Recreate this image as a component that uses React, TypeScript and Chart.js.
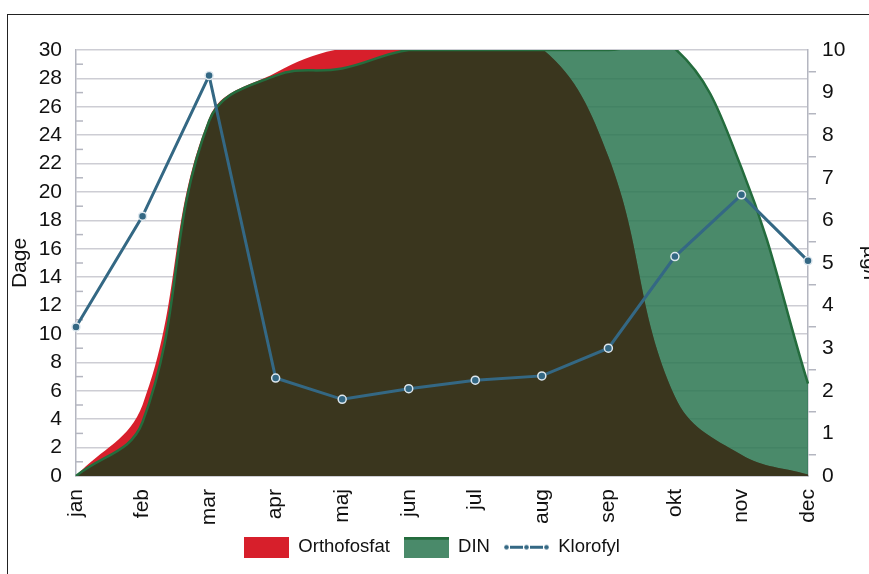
import React, { useEffect, useRef } from 'react';
import { Chart, registerables } from 'chart.js';

Chart.register(...registerables);

// ---- data ----
const months = ['jan', 'feb', 'mar', 'apr', 'maj', 'jun', 'jul', 'aug', 'sep', 'okt', 'nov', 'dec'];
const orthofosfat = [0, 5.0, 25.2, 28.4, 30.1, 30.1, 30.1, 30.1, 22.5, 5.6, 1.5, 0.1];
const din = [0, 3.8, 25.0, 28.2, 28.7, 30.0, 30.0, 30.0, 30.0, 30.1, 21.7, 6.5];
const klorofyl = [3.5, 6.1, 9.4, 2.3, 1.8, 2.05, 2.25, 2.35, 3.0, 5.15, 6.6, 5.05];
const seriesLabels = ['Orthofosfat', 'DIN', 'Klorofyl'];
const leftAxisTitle = 'Dage';
const rightAxisTitle = 'µg/l';
const leftMin = 0, leftMax = 30, leftStep = 2;
const rightMin = 0, rightMax = 10, rightStep = 1;

// ---- styles ----
const FONT = "'Liberation Sans', Arial, Helvetica, sans-serif";
const TEXT = '#111111';
const RED = '#d71f2b';
const GREEN_FILL = 'rgba(42,118,80,0.85)';
const GREEN_LEGEND = '#4a8a6a';
const GREEN_LINE = '#246c3d';
const OLIVE = '#3a361e';
const BLUE = '#346884';
const GRID = '#cdcdd4';
const AXIS = '#b4b6c0';
const AREA_TENSION = 0.4;

function boxImage(fill: string, top?: string) {
  const c = document.createElement('canvas');
  c.width = 45; c.height = 21;
  const g = c.getContext('2d')!;
  g.fillStyle = fill; g.fillRect(0, 0, 45, 21);
  if (top) { g.fillStyle = top; g.fillRect(0, 0, 45, 3); }
  return c;
}
function lineImage() {
  const c = document.createElement('canvas');
  c.width = 45; c.height = 21;
  const g = c.getContext('2d')!;
  g.strokeStyle = BLUE; g.fillStyle = BLUE; g.lineWidth = 3;
  g.beginPath(); g.moveTo(6, 10.5); g.lineTo(19, 10.5); g.moveTo(26, 10.5); g.lineTo(39, 10.5); g.stroke();
  [2.5, 22.5, 42.5].forEach((x) => { g.beginPath(); g.arc(x, 10.5, 2.3, 0, Math.PI * 2); g.fill(); });
  return c;
}

const overlapPlugin = {
  id: 'overlap',
  afterUpdate(chart: any) {
    const lg = chart.legend;
    if (lg) { lg.left -= 15; lg.right -= 15; }
  },
  beforeDatasetsDraw(chart: any) {
    const ys = chart.scales.y; const ctx = chart.ctx;
    ctx.save(); ctx.strokeStyle = AXIS; ctx.lineWidth = 1.5;
    for (let v = leftMin + leftStep / 2; v < leftMax; v += leftStep) {
      const py = ys.getPixelForValue(v);
      ctx.beginPath(); ctx.moveTo(ys.right, py); ctx.lineTo(ys.right + 7, py); ctx.stroke();
    }
    ctx.restore();
  },
  beforeDatasetDraw(chart: any, args: any) {
    if (args.index !== 1) return;
    const red = chart.getDatasetMeta(0).dataset;
    const grn = chart.getDatasetMeta(1).dataset;
    const { ctx, chartArea } = chart;
    const y0 = chart.scales.y.getPixelForValue(0);
    const area = (line: any) => {
      const pts = line.points;
      ctx.beginPath();
      line.path(ctx);
      ctx.lineTo(pts[pts.length - 1].x, y0);
      ctx.lineTo(pts[0].x, y0);
      ctx.closePath();
    };
    ctx.save();
    ctx.beginPath();
    ctx.rect(chartArea.left, chartArea.top, chartArea.right - chartArea.left, chartArea.bottom - chartArea.top);
    ctx.clip();
    area(red); ctx.clip();
    area(grn); ctx.fillStyle = OLIVE; ctx.fill();
    ctx.restore();
  },
};

export default function App() {
  const ref = useRef<HTMLCanvasElement>(null);
  useEffect(() => {
    if (!ref.current) return;
    const imgs = [boxImage(RED), boxImage(GREEN_LEGEND, GREEN_LINE), lineImage()];
    const font = { family: FONT, size: 21 };
    const chart = new Chart(ref.current, {
      type: 'line',
      data: {
        labels: months,
        datasets: [
          { label: seriesLabels[0], data: orthofosfat, yAxisID: 'y', backgroundColor: RED, borderColor: RED, borderWidth: 0, fill: 'origin', pointRadius: 0, tension: AREA_TENSION, order: 2 },
          { label: seriesLabels[1], data: din, yAxisID: 'y', backgroundColor: GREEN_FILL, borderColor: GREEN_LINE, borderWidth: 2.5, fill: 'origin', pointRadius: 0, tension: AREA_TENSION, order: 1 },
          { label: seriesLabels[2], data: klorofyl, yAxisID: 'y2', backgroundColor: BLUE, borderColor: BLUE, borderWidth: 3, fill: false, tension: 0, pointRadius: 4, pointBorderWidth: 1.5, pointBorderColor: '#dde7ee', pointBackgroundColor: BLUE, order: 0 },
        ] as any,
      },
      options: {
        responsive: false,
        animation: false,
        devicePixelRatio: 1,
        layout: { padding: { top: 35, left: 0, right: 0, bottom: 8.5 } },
        plugins: {
          tooltip: { enabled: false },
          legend: {
            position: 'bottom',
            labels: {
              usePointStyle: true,
              pointStyleWidth: 45,
              boxHeight: 21,
              padding: 14,
              color: TEXT,
              font: { family: FONT, size: 18.5 },
              generateLabels: (c: any) => c.data.datasets.map((ds: any, i: number) => ({
                text: ds.label, pointStyle: imgs[i], datasetIndex: i, hidden: false,
                fillStyle: 'transparent', strokeStyle: 'transparent', lineWidth: 0, fontColor: TEXT,
              })),
            },
          },
        },
        scales: {
          x: {
            type: 'category', offset: false,
            grid: { display: false, drawTicks: false },
            border: { display: true, color: AXIS, width: 1.5 },
            ticks: { autoSkip: false, minRotation: 90, maxRotation: 90, padding: 13, color: TEXT, font },
            afterFit: (s: any) => { s.height = 48; },
          },
          y: {
            position: 'left', min: leftMin, max: leftMax,
            ticks: { stepSize: leftStep, autoSkip: false, padding: 14, color: TEXT, font },
            grid: { color: GRID, lineWidth: 1.5, drawTicks: false },
            border: { color: AXIS, width: 1.5 },
            title: { display: true, text: leftAxisTitle, color: TEXT, font, padding: { top: 0, bottom: 5 } },
            afterFit: (s: any) => { s.width = 68; },
          },
          y2: {
            position: 'right', min: rightMin, max: rightMax,
            ticks: {
              stepSize: rightStep / 2, autoSkip: false, padding: 6, color: TEXT, font,
              callback: (v: any) => (Number.isInteger(v) ? String(v) : ''),
            },
            grid: {
              drawOnChartArea: false, drawTicks: true, tickLength: 8, lineWidth: 1.5,
              color: (c: any) => (c.tick && Number.isInteger(c.tick.value) ? 'rgba(0,0,0,0)' : AXIS),
            },
            border: { color: AXIS, width: 1.5 },
            title: { display: true, text: rightAxisTitle, color: TEXT, font, padding: { top: 4, bottom: 4 } },
            afterFit: (s: any) => { s.width = 78; },
          },
        },
      } as any,
      plugins: [overlapPlugin],
    });
    return () => chart.destroy();
  }, []);

  return (
    <div style={{ position: 'fixed', left: 0, top: 0, width: 869, height: 574, overflow: 'hidden', background: '#fff' }}>
      <div style={{ position: 'absolute', left: 7, top: 14, width: 1000, height: 700, border: '1px solid #222' }}>
        <canvas ref={ref} width={878} height={560} style={{ position: 'absolute', left: 0, top: 0 }} />
      </div>
    </div>
  );
}
